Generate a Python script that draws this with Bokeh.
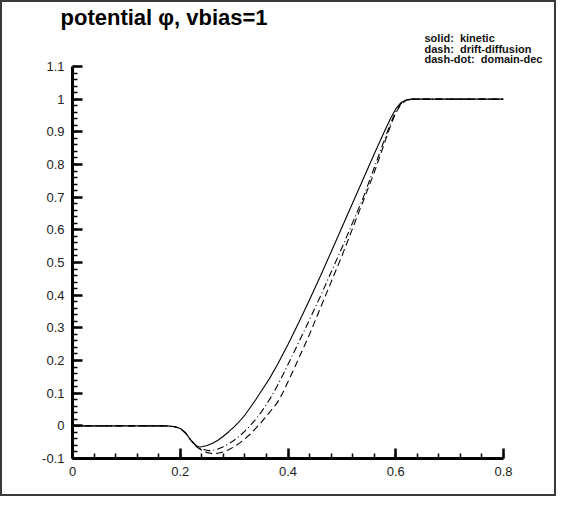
from bokeh.plotting import figure
from bokeh.models import FixedTicker, Title, Range1d
from bokeh.embed import file_html
from bokeh.resources import INLINE

# ---- data ----
title_text = "potential \u03c6, vbias=1"
legend_lines = ["solid:\u00a0 kinetic", "dash:\u00a0 drift-diffusion", "dash-dot:\u00a0 domain-dec"]

x_ticks = [0, 0.2, 0.4, 0.6, 0.8]
x_tick_labels = ["0", "0.2", "0.4", "0.6", "0.8"]
y_ticks = [-0.1, 0, 0.1, 0.2, 0.3, 0.4, 0.5, 0.6, 0.7, 0.8, 0.9, 1.0, 1.1]
y_tick_labels = ["-0.1", "0", "0.1", "0.2", "0.3", "0.4", "0.5", "0.6", "0.7", "0.8", "0.9", "1", "1.1"]

kinetic_x = [0, 0.05, 0.10, 0.15, 0.17, 0.18, 0.19, 0.20, 0.21, 0.22,
             0.23, 0.235, 0.24, 0.25, 0.26, 0.27, 0.28, 0.29, 0.30, 0.31,
             0.32, 0.33, 0.34, 0.35, 0.365, 0.38, 0.40, 0.42, 0.44, 0.46,
             0.48, 0.50, 0.52, 0.54, 0.56, 0.58, 0.59, 0.60, 0.61, 0.62,
             0.63, 0.65, 0.70, 0.75, 0.80]
kinetic_y = [0, 0, 0, 0, 0, -0.001, -0.003, -0.008, -0.022, -0.044,
             -0.061, -0.065, -0.064, -0.060, -0.053, -0.044, -0.032, -0.018, -0.003, 0.014,
             0.033, 0.056, 0.080, 0.105, 0.143, 0.186, 0.249, 0.316, 0.386, 0.458,
             0.532, 0.607, 0.682, 0.757, 0.832, 0.905, 0.940, 0.970, 0.990, 0.998,
             1.0, 1.0, 1.0, 1.0, 1.0]

domdec_x = [0, 0.05, 0.10, 0.15, 0.17, 0.18, 0.19, 0.20, 0.21, 0.22,
            0.23, 0.24, 0.25, 0.255, 0.26, 0.27, 0.28, 0.29, 0.30, 0.31,
            0.32, 0.33, 0.34, 0.35, 0.36, 0.37, 0.38, 0.39, 0.40, 0.42,
            0.44, 0.46, 0.48, 0.50, 0.52, 0.54, 0.56, 0.58, 0.59, 0.60,
            0.61, 0.62, 0.63, 0.65, 0.70, 0.75, 0.80]
domdec_y = [0, 0, 0, 0, 0, -0.001, -0.003, -0.008, -0.022, -0.045,
            -0.063, -0.071, -0.075, -0.076, -0.075, -0.071, -0.064, -0.055, -0.044, -0.031,
            -0.016, 0.001, 0.020, 0.041, 0.066, 0.092, 0.122, 0.154, 0.188, 0.256,
            0.325, 0.396, 0.470, 0.545, 0.622, 0.700, 0.790, 0.880, 0.925, 0.962,
            0.987, 0.997, 1.0, 1.0, 1.0, 1.0, 1.0]

drift_x = [0, 0.05, 0.10, 0.15, 0.17, 0.18, 0.19, 0.20, 0.21, 0.22,
           0.23, 0.24, 0.25, 0.26, 0.27, 0.28, 0.29, 0.30, 0.31, 0.32,
           0.33, 0.34, 0.35, 0.36, 0.37, 0.38, 0.39, 0.40, 0.41, 0.42,
           0.44, 0.46, 0.48, 0.50, 0.52, 0.54, 0.56, 0.58, 0.59, 0.60,
           0.61, 0.62, 0.63, 0.65, 0.70, 0.75, 0.80]
drift_y = [0, 0, 0, 0, 0, -0.001, -0.003, -0.008, -0.022, -0.045,
           -0.064, -0.075, -0.082, -0.085, -0.084, -0.080, -0.073, -0.064, -0.053, -0.040,
           -0.025, -0.008, 0.010, 0.030, 0.050, 0.070, 0.100, 0.135, 0.170, 0.207,
           0.280, 0.360, 0.440, 0.520, 0.605, 0.690, 0.775, 0.870, 0.918, 0.958,
           0.985, 0.997, 1.0, 1.0, 1.0, 1.0, 1.0]

x_minor = [round(0.04 * i, 2) for i in range(21)]
y_minor = [round(-0.1 + 0.02 * i, 2) for i in range(61)]

FONT = "Liberation Sans"

p = figure(width=556, height=496, output_backend="svg", toolbar_location=None, title=None,
           x_range=Range1d(0, 0.8), y_range=Range1d(-0.1, 1.1),
           min_border_left=70, min_border_right=55, min_border_top=0, min_border_bottom=40)
p.styles = {"border": "2px solid #3a3a3a"}
p.outline_line_color = None
p.xgrid.visible = False
p.ygrid.visible = False
p.background_fill_color = "white"
p.border_fill_color = "white"

p.line(kinetic_x, kinetic_y, line_color="black", line_width=1.1)
p.line(drift_x, drift_y, line_color="black", line_width=1.1, line_dash="7 4")
p.line(domdec_x, domdec_y, line_color="black", line_width=1.1, line_dash="7 3 1 3")

for ax, ticks, minors, labels in ((p.xaxis[0], x_ticks, x_minor, x_tick_labels),
                                  (p.yaxis[0], y_ticks, y_minor, y_tick_labels)):
    ax.ticker = FixedTicker(ticks=ticks, minor_ticks=minors)
    ax.major_label_overrides = {t: l for t, l in zip(ticks, labels)}
    ax.axis_line_width = 3
    ax.axis_line_color = "black"
    ax.major_tick_in = 10
    ax.major_tick_out = 0
    ax.minor_tick_in = 5
    ax.minor_tick_out = 0
    ax.major_tick_line_width = 2.5
    ax.minor_tick_line_width = 1.5
    ax.major_tick_line_color = "black"
    ax.minor_tick_line_color = "black"
    ax.major_label_text_font = FONT
    ax.major_label_text_font_size = "13px"
    ax.major_label_text_color = "#222222"
    ax.major_label_standoff = 8

# legend block (nearest the frame), then the main title above it
p.add_layout(Title(text="\n".join(legend_lines), align="left", offset=352, standoff=2,
                   text_font=FONT, text_font_size="11px", text_font_style="bold",
                   text_color="#111111", text_line_height=0.88), "above")
p.add_layout(Title(text=title_text, align="left", offset=-12, standoff=0,
                   text_font=FONT, text_font_size="22px", text_font_style="bold",
                   text_color="black"), "above")

open("out.html", "w").write(file_html(p, INLINE))
